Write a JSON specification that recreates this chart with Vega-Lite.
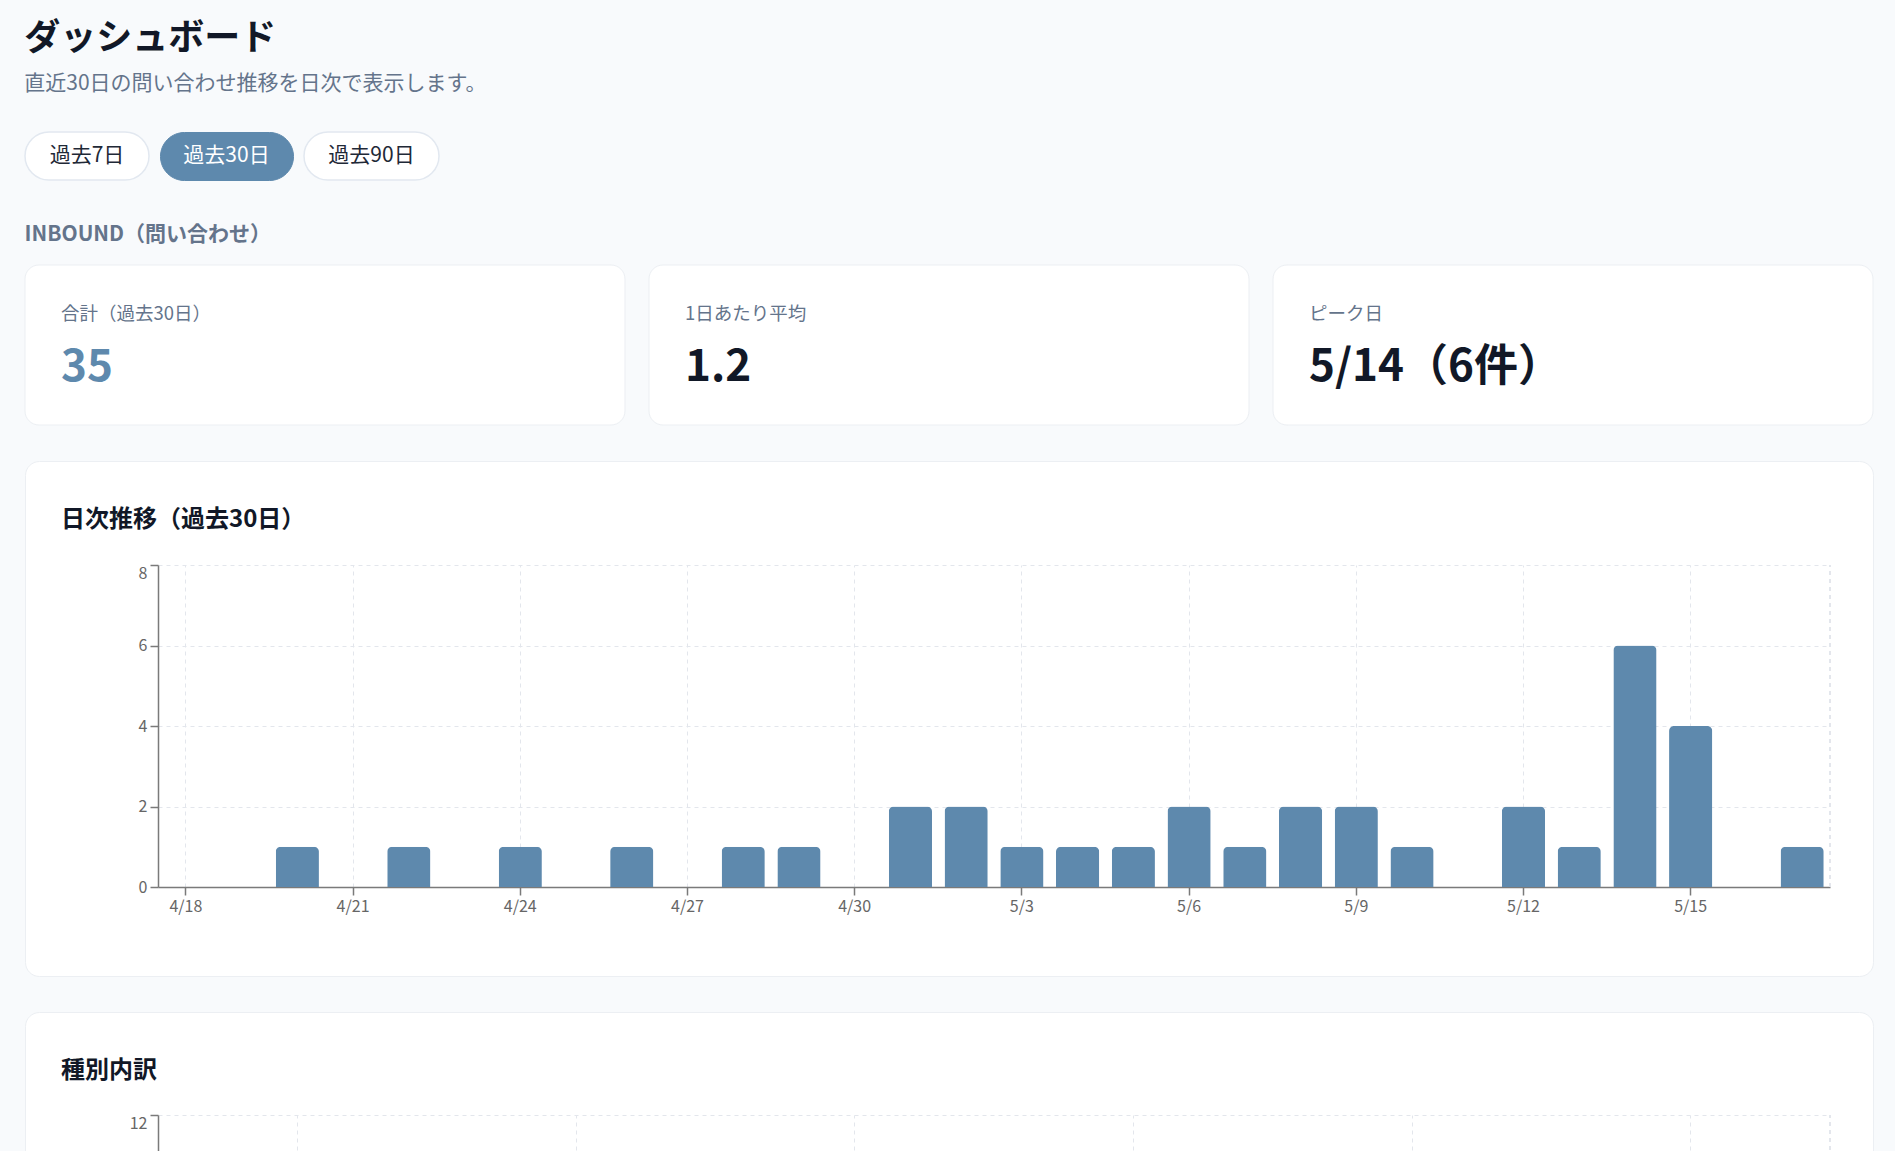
{
  "$schema": "https://vega.github.io/schema/vega-lite/v6.json",
  "background": "#f8fafc",
  "padding": {"left": 24, "top": 21, "right": 23, "bottom": 0},
  "config": {
    "font": "Noto Sans CJK JP",
    "view": {"stroke": null},
    "axis": {"labelFont": "Noto Sans CJK JP"},
    "title": {"font": "Noto Sans CJK JP", "subtitleFont": "Noto Sans CJK JP"}
  },
  "spacing": 42,
  "vconcat": [
    {
      "title": {
        "text": "ダッシュボード",
        "subtitle": "直近30日の問い合わせ推移を日次で表示します。",
        "anchor": "start",
        "fontSize": 36,
        "fontWeight": 700,
        "color": "#111827",
        "subtitleFontSize": 21,
        "subtitleColor": "#64748b",
        "subtitleFontWeight": 400,
        "subtitlePadding": 14.6,
        "offset": 36.2
      },
      "spacing": 9,
      "hconcat": [
        {
          "width": 124, "height": 48,
          "view": {"fill": "#ffffff", "stroke": "#e2e8f0", "strokeWidth": 1.5, "cornerRadius": 24},
          "data": {"values": [{"label": "過去7日"}]},
          "mark": {"type": "text", "fontSize": 21, "color": "#1f2937"},
          "encoding": {"text": {"field": "label"}}
        },
        {
          "width": 133, "height": 48,
          "view": {"fill": "#5e89ad", "stroke": "#5e89ad", "strokeWidth": 1, "cornerRadius": 24},
          "data": {"values": [{"label": "過去30日"}]},
          "mark": {"type": "text", "fontSize": 21, "color": "#ffffff"},
          "encoding": {"text": {"field": "label"}}
        },
        {
          "width": 135, "height": 48,
          "view": {"fill": "#ffffff", "stroke": "#e2e8f0", "strokeWidth": 1.5, "cornerRadius": 24},
          "data": {"values": [{"label": "過去90日"}]},
          "mark": {"type": "text", "fontSize": 21, "color": "#1f2937"},
          "encoding": {"text": {"field": "label"}}
        }
      ]
    },
    {
      "spacing": 34,
      "vconcat": [
        {
          "title": {
            "text": "INBOUND（問い合わせ）",
            "anchor": "start",
            "fontSize": 21,
            "fontWeight": 600,
            "color": "#64748b",
            "offset": 20
          },
          "width": 1848,
          "height": 160,
          "data": {"values": [
            {"key": "合計（過去30日）", "value": "35"},
            {"key": "1日あたり平均", "value": "1.2"},
            {"key": "ピーク日", "value": "5/14（6件）"}
          ]},
          "layer": [
            {
              "mark": {"type": "bar", "fill": "#ffffff", "stroke": "#eceff3", "strokeWidth": 1, "cornerRadius": 14},
              "encoding": {
                "x": {"field": "key", "type": "nominal", "sort": null, "scale": {"paddingInner": 0.0385, "paddingOuter": 0, "round": false}, "axis": null}
              }
            },
            {
              "mark": {"type": "text", "align": "left", "baseline": "middle", "dx": 36, "dy": -31.5, "fontSize": 18.5, "color": "#64748b"},
              "encoding": {
                "x": {"field": "key", "type": "nominal", "sort": null, "bandPosition": 0, "axis": null},
                "text": {"field": "key"}
              }
            },
            {
              "mark": {"type": "text", "align": "left", "baseline": "middle", "dx": 36, "dy": 23, "fontSize": 44, "fontWeight": 700},
              "encoding": {
                "x": {"field": "key", "type": "nominal", "sort": null, "bandPosition": 0, "axis": null},
                "text": {"field": "value"},
                "color": {"condition": {"test": "datum.value === '35'", "value": "#5e89ad"}, "value": "#111827"}
              }
            }
          ]
        },
        {
          "title": {
            "text": "日次推移（過去30日）",
            "anchor": "start",
            "dx": 36,
            "offset": -70.5,
            "fontSize": 24,
            "fontWeight": 700,
            "color": "#111827"
          },
          "width": 1848,
          "height": 515,
          "view": {"fill": "#ffffff", "stroke": "#eceff3", "strokeWidth": 1, "cornerRadius": 14},
          "data": {"values": [
            {"date": "4/18", "count": 0},
            {"date": "4/19", "count": 0},
            {"date": "4/20", "count": 1},
            {"date": "4/21", "count": 0},
            {"date": "4/22", "count": 1},
            {"date": "4/23", "count": 0},
            {"date": "4/24", "count": 1},
            {"date": "4/25", "count": 0},
            {"date": "4/26", "count": 1},
            {"date": "4/27", "count": 0},
            {"date": "4/28", "count": 1},
            {"date": "4/29", "count": 1},
            {"date": "4/30", "count": 0},
            {"date": "5/1", "count": 2},
            {"date": "5/2", "count": 2},
            {"date": "5/3", "count": 1},
            {"date": "5/4", "count": 1},
            {"date": "5/5", "count": 1},
            {"date": "5/6", "count": 2},
            {"date": "5/7", "count": 1},
            {"date": "5/8", "count": 2},
            {"date": "5/9", "count": 2},
            {"date": "5/10", "count": 1},
            {"date": "5/11", "count": 0},
            {"date": "5/12", "count": 2},
            {"date": "5/13", "count": 1},
            {"date": "5/14", "count": 6},
            {"date": "5/15", "count": 4},
            {"date": "5/16", "count": 0},
            {"date": "5/17", "count": 1}
          ]},
          "resolve": {"axis": {"x": "independent"}},
          "layer": [
            {
              "mark": {"type": "bar", "color": "#5e89ad", "width": {"band": 0.775}, "cornerRadiusTopLeft": 5, "cornerRadiusTopRight": 5},
              "encoding": {
                "x": {
                  "field": "date", "type": "ordinal", "sort": null,
                  "scale": {"range": [133, 1805], "paddingInner": 0, "paddingOuter": 0, "round": false},
                  "axis": {
                    "title": null,
                    "values": ["4/18", "4/21", "4/24", "4/27", "4/30", "5/3", "5/6", "5/9", "5/12", "5/15"],
                    "offset": -89,
                    "domainColor": "#7a7a7a", "domainWidth": 1.5,
                    "tickColor": "#7a7a7a", "tickWidth": 1.5, "tickSize": 8,
                    "labelFontSize": 16, "labelColor": "#666666", "labelPadding": 3, "labelAngle": 0,
                    "grid": false
                  }
                },
                "y": {
                  "field": "count", "type": "quantitative",
                  "scale": {"domain": [0, 8], "range": [426, 104], "nice": false},
                  "axis": {
                    "title": null,
                    "values": [0, 2, 4, 6, 8],
                    "format": "d",
                    "offset": -133,
                    "domainColor": "#7a7a7a", "domainWidth": 1.5,
                    "tickColor": "#7a7a7a", "tickWidth": 1.5, "tickSize": 8,
                    "labelFontSize": 16, "labelColor": "#666666", "labelPadding": 3,
                    "labelBaseline": {"condition": {"test": "datum.value == 8", "value": "top"}, "value": "middle"},
                    "grid": true, "gridColor": "#e3e6ec", "gridDash": [4, 4]
                  }
                }
              }
            },
            {
              "mark": {"type": "rule", "color": "#e3e6ec", "strokeDash": [4, 4], "strokeWidth": 1},
              "encoding": {
                "x": {
                  "datum": "5/17", "type": "ordinal", "bandPosition": 1,
                  "axis": {
                    "orient": "top", "offset": -104, "title": null,
                    "values": ["4/18", "4/21", "4/24", "4/27", "4/30", "5/3", "5/6", "5/9", "5/12", "5/15"],
                    "domain": false, "ticks": false, "labels": false,
                    "grid": true, "gridColor": "#e3e6ec", "gridDash": [4, 4]
                  }
                },
                "y": {"datum": 0, "type": "quantitative"},
                "y2": {"datum": 8}
              }
            }
          ]
        },
        {
          "title": {
            "text": "種別内訳",
            "anchor": "start",
            "dx": 36,
            "offset": -70.5,
            "fontSize": 24,
            "fontWeight": 700,
            "color": "#111827"
          },
          "width": 1848,
          "height": 500,
          "view": {"fill": "#ffffff", "stroke": "#eceff3", "strokeWidth": 1, "cornerRadius": 14},
          "data": {"values": [
            {"type": "資料請求", "count": 10},
            {"type": "お見積り", "count": 8},
            {"type": "製品に関する質問", "count": 7},
            {"type": "導入相談", "count": 5},
            {"type": "サポート", "count": 3},
            {"type": "その他", "count": 2}
          ]},
          "resolve": {"axis": {"x": "independent"}},
          "layer": [
            {
              "mark": {"type": "bar", "color": "#5e89ad", "width": {"band": 0.6}, "cornerRadiusTopLeft": 5, "cornerRadiusTopRight": 5},
              "encoding": {
                "x": {
                  "field": "type", "type": "nominal", "sort": null,
                  "scale": {"range": [133, 1805], "paddingInner": 0, "paddingOuter": 0, "round": false},
                  "axis": {
                    "title": null,
                    "offset": -74,
                    "domainColor": "#7a7a7a", "domainWidth": 1.5,
                    "tickColor": "#7a7a7a", "tickWidth": 1.5, "tickSize": 8,
                    "labels": false,
                    "grid": false
                  }
                },
                "y": {
                  "field": "count", "type": "quantitative",
                  "scale": {"domain": [0, 12], "range": [426, 103], "nice": false},
                  "axis": {
                    "title": null,
                    "values": [12],
                    "format": "d",
                    "offset": -133,
                    "domainColor": "#7a7a7a", "domainWidth": 1.5,
                    "tickColor": "#7a7a7a", "tickWidth": 1.5, "tickSize": 8,
                    "labelFontSize": 16, "labelColor": "#666666", "labelPadding": 3,
                    "labelBaseline": "top",
                    "grid": true, "gridColor": "#e3e6ec", "gridDash": [4, 4]
                  }
                }
              }
            },
            {
              "mark": {"type": "rule", "color": "#e3e6ec", "strokeDash": [4, 4], "strokeWidth": 1},
              "encoding": {
                "x": {
                  "datum": "その他", "type": "nominal", "bandPosition": 1,
                  "axis": {
                    "orient": "top", "offset": -103, "title": null,
                    "domain": false, "ticks": false, "labels": false,
                    "grid": true, "gridColor": "#e3e6ec", "gridDash": [4, 4]
                  }
                },
                "y": {"datum": 0, "type": "quantitative"},
                "y2": {"datum": 12}
              }
            }
          ]
        }
      ]
    }
  ]
}
